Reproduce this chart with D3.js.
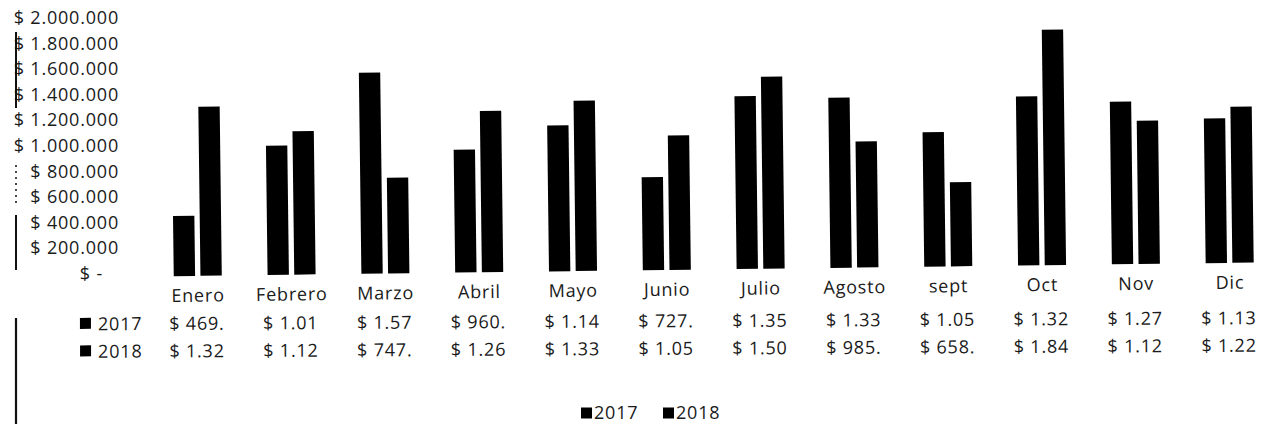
<!DOCTYPE html>
<html>
<head>
<meta charset="utf-8">
<script src="https://cdn.jsdelivr.net/npm/d3@7"></script>
<style>
  html, body { margin: 0; padding: 0; background: #fff; }
  svg { display: block; }
  text { font-family: "Open Sans", sans-serif; font-size: 18px; fill: #1a1a1a; letter-spacing: 0.8px; }
</style>
</head>
<body>
<svg id="chart" width="1262" height="424"></svg>
<script>
// ---- data ----
const months = ["Enero", "Febrero", "Marzo", "Abril", "Mayo", "Junio", "Julio", "Agosto", "sept", "Oct", "Nov", "Dic"];
const seriesNames = ["2017", "2018"];
const values2017 = [469000, 1010000, 1570000, 960000, 1140000, 727000, 1350000, 1330000, 1050000, 1320000, 1270000, 1130000];
const values2018 = [1320000, 1120000, 747000, 1260000, 1330000, 1050000, 1500000, 985000, 658000, 1840000, 1120000, 1220000];
const yTicks = [0, 200000, 400000, 600000, 800000, 1000000, 1200000, 1400000, 1600000, 1800000, 2000000];

const seriesValues = { "2017": values2017, "2018": values2018 };
const data = months.map((m, i) => ({ month: m, values: seriesNames.map(s => ({ key: s, value: seriesValues[s][i] })) }));

const svg = d3.select("#chart");
const fmtLocale = d3.formatLocale({ decimal: ",", thousands: ".", grouping: [3], currency: ["$", ""] });
const fmtNum = fmtLocale.format(",.0f");

// scales
const x0 = d3.scaleBand().domain(months).range([150.1, 1275.9]).paddingInner(0.488).paddingOuter(0.244);
const x1 = d3.scaleBand().domain(seriesNames).range([0, x0.bandwidth()]).paddingInner(0.2);
const y = d3.scaleLinear().domain([0, 2000000]).range([270.4, 14.4]);
const color = d3.scaleOrdinal().domain(seriesNames).range(["#000", "#000"]);

// ---- y axis labels (unrotated) ----
const yAxis = d3.axisLeft(y).tickValues(yTicks).tickSize(0).tickPadding(0)
  .tickFormat(v => v === 0 ? "$ -" : "$ " + fmtNum(v));
const ax = svg.append("g").attr("transform", "translate(119,3.3)").call(yAxis);
ax.select(".domain").remove();
ax.selectAll("text")
  .attr("fill", "#1a1a1a")
  .style("font-family", "'Open Sans', sans-serif")
  .style("font-size", "18px")
  .attr("dx", d => d === 0 ? -16 : 0);

// scan edge line on the left
const edgeSegs = [[32, 108, 2, null], [165, 205, 1.5, "2,4"], [215, 270, 2, null], [318, 424, 2.2, null]];
svg.append("g").selectAll("line").data(edgeSegs).join("line")
  .attr("x1", 16).attr("x2", 16)
  .attr("y1", d => d[0]).attr("y2", d => d[1])
  .attr("stroke", "#111").attr("stroke-width", d => d[2])
  .attr("stroke-dasharray", d => d[3]);

// ---- rotated main group (scan is slightly tilted) ----
const g = svg.append("g").attr("transform", "rotate(-0.72, 631, 212)");

// bars
g.append("g").selectAll("g").data(data).join("g")
  .attr("transform", d => `translate(${x0(d.month)},0)`)
  .selectAll("rect").data(d => d.values).join("rect")
  .attr("x", d => x1(d.key))
  .attr("width", x1.bandwidth())
  .attr("y", d => y(d.value))
  .attr("height", d => y(0) - y(d.value))
  .attr("fill", d => color(d.key));

// category labels
const xAxis = d3.axisBottom(x0).tickSize(0).tickPadding(0);
const xa = g.append("g").attr("transform", "translate(0,283.5)").call(xAxis);
xa.select(".domain").remove();
xa.selectAll("text")
  .attr("fill", "#1a1a1a")
  .attr("dy", "0.71em")
  .style("font-family", "'Open Sans', sans-serif")
  .style("font-size", "18px");

// data table rows (less tilted)
const tg = svg.append("g").attr("transform", "rotate(-0.3, 631, 335)");
const rowY = { "2017": 320.5, "2018": 348 };
const truncLabel = v => "$ " + fmtNum(v).slice(0, 4);
seriesNames.forEach(s => {
  const row = tg.append("g");
  row.append("rect")
    .attr("x", 80).attr("y", rowY[s] - 5.5).attr("width", 11).attr("height", 11)
    .attr("fill", color(s));
  row.append("text")
    .attr("x", 98).attr("y", rowY[s]).attr("dominant-baseline", "central")
    .text(s);
  row.selectAll("text.val").data(data).join("text")
    .attr("class", "val")
    .attr("x", d => x0(d.month) + x0.bandwidth() / 2)
    .attr("y", rowY[s])
    .attr("text-anchor", "middle")
    .attr("dominant-baseline", "central")
    .text(d => truncLabel(seriesValues[s][months.indexOf(d.month)]));
});

// legend
const legend = svg.append("g").attr("transform", "translate(581,412)");
const legendItems = legend.selectAll("g").data(seriesNames).join("g")
  .attr("transform", (d, i) => `translate(${i * 82},0)`);
legendItems.append("rect").attr("x", 0).attr("y", -4.5).attr("width", 11).attr("height", 11).attr("fill", d => color(d));
legendItems.append("text").attr("x", 13).attr("y", 0).attr("dominant-baseline", "central").text(d => d);
</script>
</body>
</html>
